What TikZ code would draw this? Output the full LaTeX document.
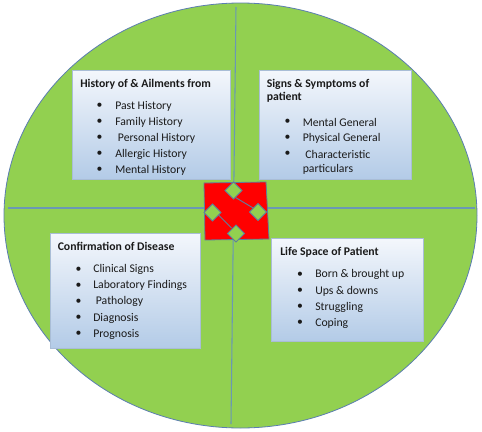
\documentclass[tikz,border=0pt]{standalone}
\usepackage{fontspec}
\setmainfont{Carlito}
\usetikzlibrary{shapes.geometric}
\definecolor{leaf}{HTML}{92D050}
\definecolor{rim}{HTML}{5B7DB1}
\definecolor{divider}{HTML}{6A98B4}
\definecolor{boxtop}{HTML}{F4F7FC}
\definecolor{boxbot}{HTML}{B3CBE7}
\definecolor{boxrim}{HTML}{A9BDD6}
\definecolor{shaperim}{HTML}{5E7E9C}
\definecolor{ink}{HTML}{1A1A1A}
\tikzset{
  infobox/.style={draw=boxrim, line width=0.5pt, top color=boxtop, bottom color=boxbot, shading angle=0, inner sep=0pt},
  ttl/.style={anchor=west, inner sep=0pt, text=ink, font=\fontsize{8.8pt}{12pt}\selectfont\bfseries},
  itm/.style={anchor=west, inner sep=0pt, text=ink, font=\fontsize{8.8pt}{12pt}\selectfont},
  bul/.style={inner sep=0pt, text=ink, font=\fontsize{8.8pt}{12pt}\selectfont},
  cutout/.style={diamond, draw=shaperim, fill=leaf, line width=0.6pt, inner sep=0pt, minimum width=13pt, minimum height=13pt},
  divline/.style={draw=divider, line width=0.8pt}
}
\begin{document}
\begin{tikzpicture}[x=0.75pt, y=-0.75pt]
\useasboundingbox (0,0) rectangle (482,432);
% ellipse
\node (oval) [ellipse, draw=rim, fill=leaf, line width=0.6pt, minimum width=473*0.75pt, minimum height=425*0.75pt, inner sep=0pt] at (240.5,215.5) {};
% dividers
\coordinate (vt) at (236,7);
\coordinate (vb) at (231,424);
\coordinate (hl) at (8,208);
\coordinate (hr) at (475,208);
\draw[divline] (vt) -- (vb);
\draw[divline] (hl) -- (hr);
% boxes
\path[infobox] (72,70) rectangle (230,179) node[midway] (b1) {};
\path[infobox] (259,70) rectangle (411,179) node[midway] (b2) {};
\path[infobox] (50,233) rectangle (200,348) node[midway] (b3) {};
\path[infobox] (271,238) rectangle (423,341) node[midway] (b4) {};
% box 1 text
\node[ttl] (t1) at (80,84) {History of \& Ailments from};
\foreach \y/\t [count=\i] in {106/Past History,122/Family History,138/\ Personal History,154/Allergic History,170/Mental History}{
  \node[bul] (b1d\i) at (99.5,\y) {•};
  \node[itm] (b1t\i) at (115,\y) {\t};
}
% box 2 text
\node[ttl] (t2a) at (266.5,84) {Signs \& Symptoms of};
\node[ttl] (t2b) at (266.5,97.5) {patient};
\foreach \y/\t [count=\i] in {122/Mental General,138/Physical General,154/\ Characteristic}{
  \node[bul] (b2d\i) at (287.5,\y) {•};
  \node[itm] (b2t\i) at (302.5,\y) {\t};
}
\node[itm] (b2t4) at (302.5,169) {particulars};
% box 3 text
\node[ttl] (t3) at (57.5,246.5) {Confirmation of Disease};
\foreach \y/\t [count=\i] in {269.5/Clinical Signs,285.5/Laboratory Findings,301.5/\ Pathology,318/Diagnosis,334/Prognosis}{
  \node[bul] (b3d\i) at (78.5,\y) {•};
  \node[itm] (b3t\i) at (93,\y) {\t};
}
% box 4 text
\node[ttl] (t4) at (280,252) {Life Space of Patient};
\foreach \y/\t [count=\i] in {274.5/Born \& brought up,291/Ups \& downs,307/Struggling,323/Coping}{
  \node[bul] (b4d\i) at (300,\y) {•};
  \node[itm] (b4t\i) at (315,\y) {\t};
}
% centre shape
\coordinate (ca) at (204,183);
\coordinate (cb) at (266,182);
\coordinate (cc) at (269,239);
\coordinate (cd) at (205,240);
\draw[draw=shaperim, fill=red, line width=0.6pt] (ca) -- (cb) -- (cc) -- (cd) -- cycle;
\coordinate (u1) at (235.5,197.5);
\coordinate (u2) at (254,208.5);
\coordinate (l1) at (218.5,215);
\coordinate (l2) at (231.5,228);
\draw[draw=shaperim, line width=0.7pt] (u1) -- (u2);
\draw[draw=shaperim, line width=0.7pt] (l1) -- (l2);
\node[cutout] (dtop) at (233.5,190.5) {};
\node[cutout] (dleft) at (212.5,212.5) {};
\node[cutout] (dright) at (258,212) {};
\node[cutout] (dbot) at (236,233.5) {};
\end{tikzpicture}
\end{document}
